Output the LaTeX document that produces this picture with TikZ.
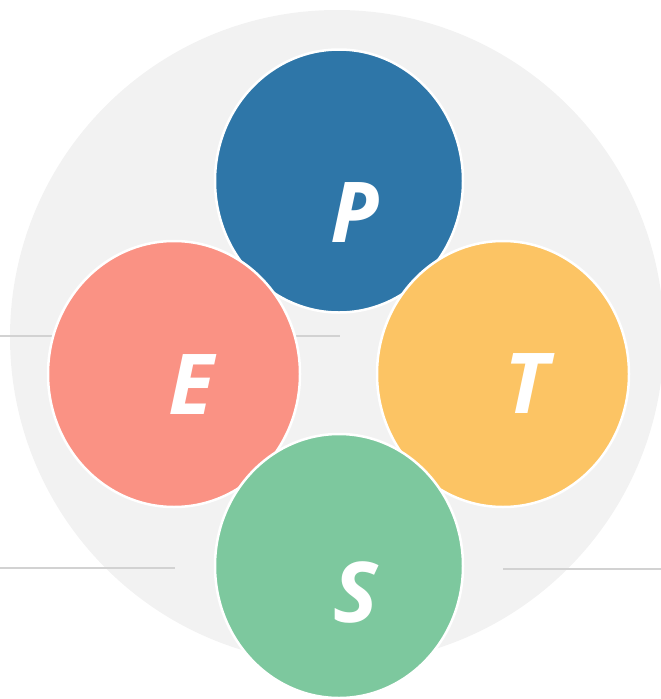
\documentclass[tikz,border=0pt]{standalone}
\usepackage{fontspec}
\setsansfont{Open Sans}
\usetikzlibrary{shapes.geometric}

\definecolor{backGray}{RGB}{242,242,242}
\definecolor{guideGray}{RGB}{210,210,210}
\definecolor{pBlue}{RGB}{46,118,168}
\definecolor{eSalmon}{RGB}{250,146,132}
\definecolor{tYellow}{RGB}{252,196,100}
\definecolor{sGreen}{RGB}{125,200,158}

\begin{document}
\begin{tikzpicture}[
    x=1pt, y=-1pt,
    % --- stiluri
    ring/.style={
            ellipse,
            draw=white,
            line width=2.5pt,
            inner sep=0pt,
            minimum width=250pt,
            minimum height=265pt
        },
    letter/.style={
            text=white,
            inner sep=0pt,
            font=\sffamily\bfseries\itshape\fontsize{84}{84}\selectfont
        },
    guide/.style={
            draw=guideGray,
            line width=2pt
        }
    ]
    \useasboundingbox (0,0) rectangle (661,699);

    % 1. Fundal
    \node[circle, fill=backGray, inner sep=0pt, minimum size=654pt] (back) at (337,337) {};

    % 2. Linii de ghidaj (sub cercuri)
    \coordinate (g1a) at (0,336);
    \coordinate (g1b) at (340,336);
    \coordinate (g2a) at (0,568);
    \coordinate (g2b) at (175,568);
    \coordinate (g3a) at (503,569);
    \coordinate (g3b) at (661,569);
    \draw[guide] (g1a) -- (g1b);
    \draw[guide] (g2a) -- (g2b);
    \draw[guide] (g3a) -- (g3b);

    % 3. Cercurile P, E, T, S
    \node[ring, fill=pBlue, minimum width=248pt, minimum height=263pt] (p) at (339,181) {};
    \node[ring, fill=eSalmon, minimum width=252pt, minimum height=266pt] (e) at (174,374) {};
    \node[ring, fill=tYellow, minimum width=252pt, minimum height=266pt] (t) at (503,374) {};
    \node[ring, fill=sGreen, minimum width=248pt, minimum height=264pt] (s) at (339,566) {};

    % 4. Literele
    \node[letter] (pL) at (355,213) {P};
    \node[letter] (eL) at (191,385) {E};
    \node[letter] (tL) at (527,384) {T};
    \node[letter] (sL) at (356,592) {S};

\end{tikzpicture}
\end{document}
